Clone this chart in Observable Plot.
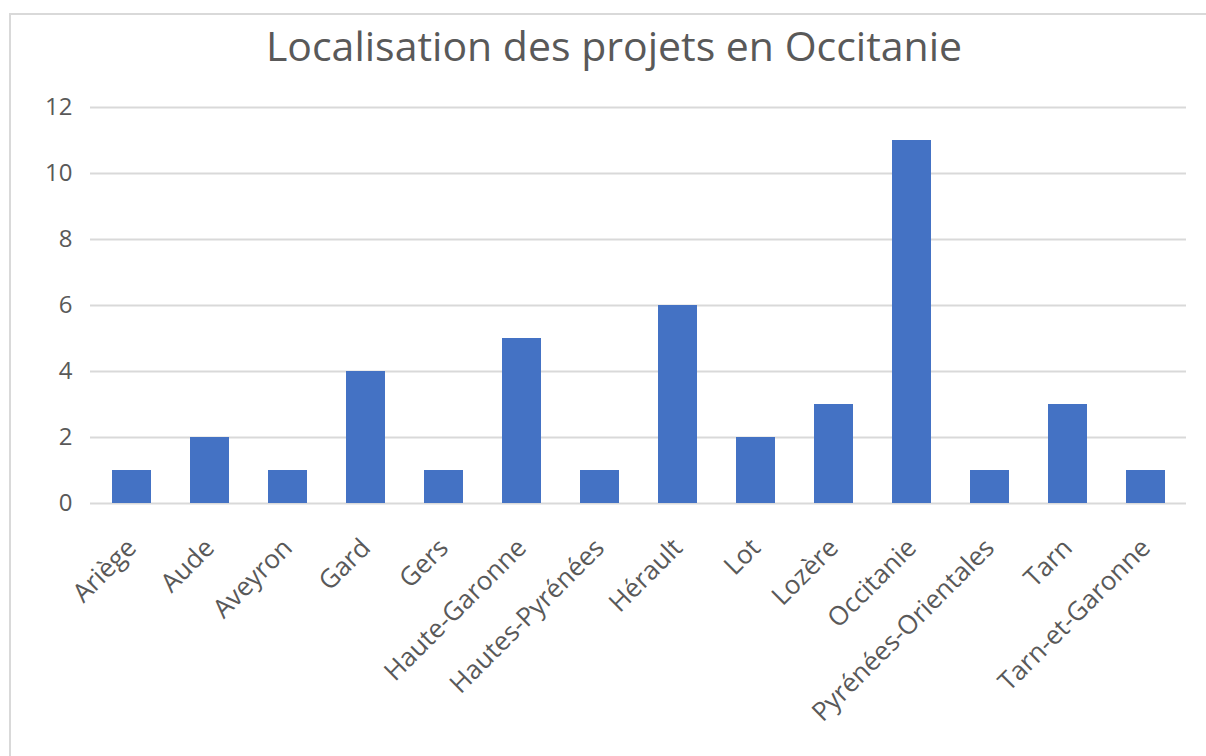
<!DOCTYPE html>
<html>
<head>
<meta charset="utf-8">
<script src="https://cdn.jsdelivr.net/npm/d3@7"></script>
<script src="https://cdn.jsdelivr.net/npm/@observablehq/plot@0.6"></script>
<style>
  html, body { margin: 0; padding: 0; background: #fff; }
  #wrap { position: relative; width: 1206px; height: 756px; overflow: hidden; font-family: "Open Sans", sans-serif; }
  #frame { position: absolute; left: 9px; top: 13px; width: 1300px; height: 900px; border: 2px solid #d9d9d9; box-sizing: border-box; }
  #title { position: absolute; left: 0; top: 21px; width: 1228px; text-align: center; font-size: 41px; color: #595959; line-height: 1.2; white-space: nowrap; }
  #chart { position: absolute; left: 0; top: 0; }
  #chart svg [aria-label="y-axis tick label"] { font-size: 24px !important; fill: #595959; }
  #chart svg [aria-label="x-axis tick label"] { font-size: 26px !important; fill: #595959; }
</style>
</head>
<body>
<div id="wrap">
  <div id="frame"></div>
  <div id="title">Localisation des projets en Occitanie</div>
  <div id="chart"></div>
</div>
<script>
const departements = ["Ariège", "Aude", "Aveyron", "Gard", "Gers", "Haute-Garonne", "Hautes-Pyrénées", "Hérault", "Lot", "Lozère", "Occitanie", "Pyrénées-Orientales", "Tarn", "Tarn-et-Garonne"];
const projets = [1, 2, 1, 4, 1, 5, 1, 6, 2, 3, 11, 1, 3, 1];
const yTicks = [0, 2, 4, 6, 8, 10, 12];

const data = departements.map((d, i) => ({departement: d, projets: projets[i]}));

const chart = Plot.plot({
  width: 1206,
  height: 756,
  marginLeft: 90,
  marginRight: 20,
  marginTop: 107,
  marginBottom: 253,
  style: {fontFamily: "'Open Sans', sans-serif", fontSize: "24px", color: "#595959", background: "transparent", overflow: "visible"},
  x: {domain: departements, paddingInner: 0.5, paddingOuter: 0.25, label: null},
  y: {domain: [0, 12], label: null},
  marks: [
    Plot.gridY(yTicks, {stroke: "#d9d9d9", strokeOpacity: 1, strokeWidth: 2}),
    Plot.barY(data, {x: "departement", y: "projets", fill: "#4472c4"}),
    Plot.axisY(yTicks, {tickSize: 0, tickPadding: 18, fill: "#595959", fontSize: 24}),
    Plot.axisX({tickSize: 0, tickPadding: 40, tickRotate: -45, fill: "#595959", fontSize: 26})
  ]
});
document.getElementById("chart").appendChild(chart);
</script>
</body>
</html>
